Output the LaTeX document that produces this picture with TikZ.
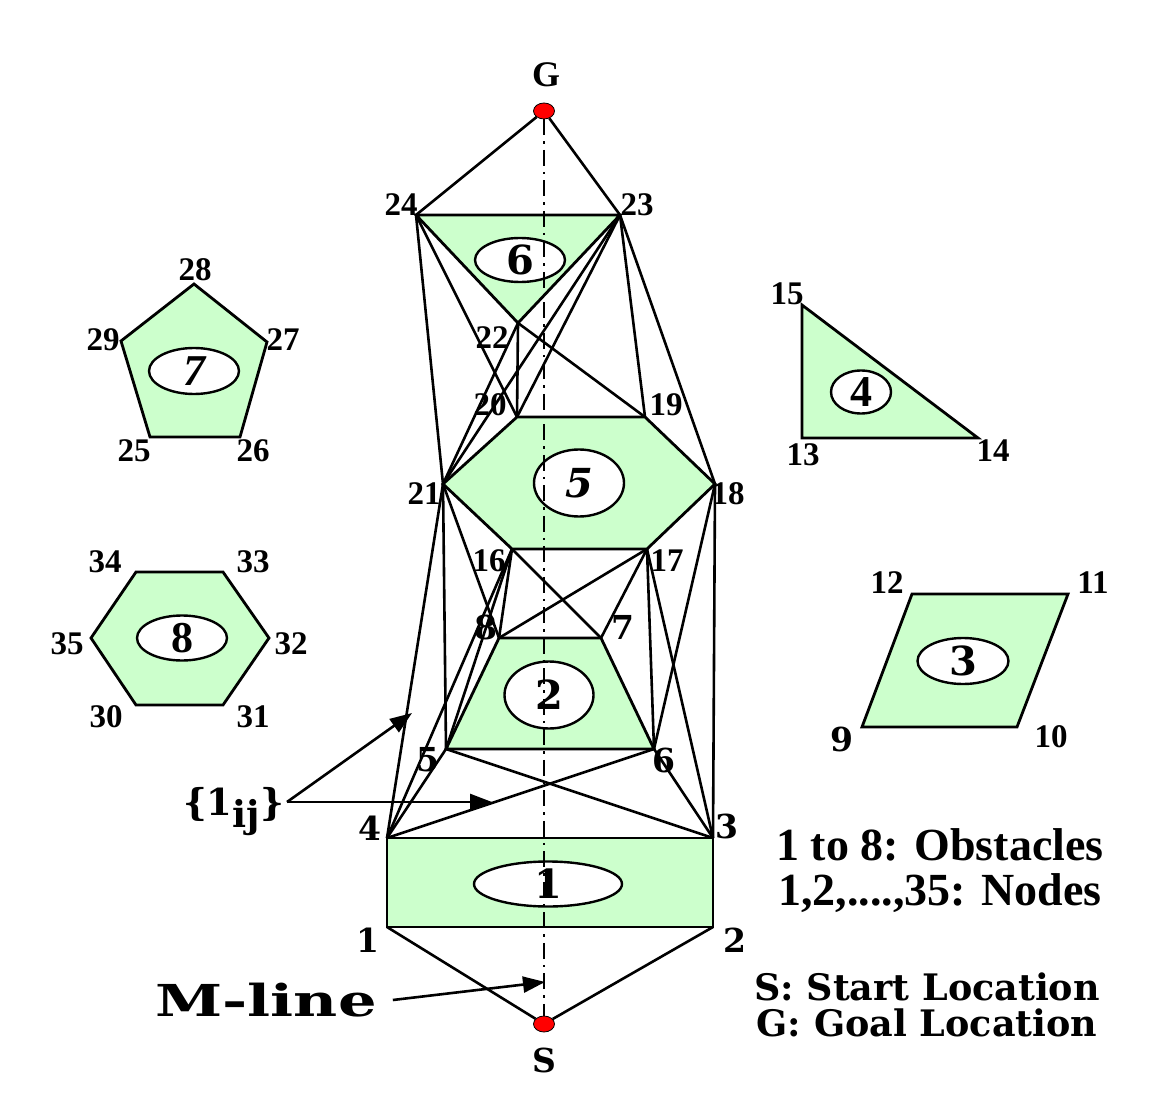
\documentclass[tikz,border=0pt]{standalone}
\usepackage{fontspec}
\setmainfont{Liberation Serif}
\newfontfamily\bookfont{DejaVu Serif}
\usepackage{graphicx}
\usepackage{tikz}
\usetikzlibrary{positioning,arrows.meta,shapes.geometric,calc}
\definecolor{obstgreen}{HTML}{CCFFCC}

\begin{document}
\begin{tikzpicture}[x=1pt, y=-1pt,
    obst/.style={fill=obstgreen, draw=black, line width=2.8pt, line join=miter},
    oval/.style={ellipse, draw=black, fill=white, line width=2.4pt, inner sep=0pt},
    vis/.style={draw=black, line width=2.6pt},
    tlab/.style={font=\fontsize{33}{33}\selectfont\bfseries, inner sep=0pt},
    blab/.style={font=\bookfont\fontsize{33}{33}\selectfont\bfseries, inner sep=0pt},
    onum/.style={font=\bookfont\fontsize{40}{40}\selectfont\bfseries},
    tnum/.style={font=\fontsize{44}{44}\selectfont\bfseries},
    endpt/.style={ellipse, draw=black, fill=red, line width=0.8pt,
                  minimum width=21pt, minimum height=16pt, inner sep=0pt},
    arr/.style={draw=black, line width=2.6pt, -{Triangle[length=22pt,width=16pt]}},
    mline/.style={draw=black, line width=2.4pt,
                  dash pattern=on 16pt off 6pt on 2.5pt off 6pt}
]
\useasboundingbox (0,0) rectangle (1151,1115);

% Vertices of the obstacles
\foreach \n/\x/\y in {1/387/927, 2/713/927, 3/713/838, 4/387/838,
    5/446/749, 6/654/749, 7/601/638, 8/499/638,
    9/862/727, 10/1017/727, 11/1068/594, 12/912/594,
    13/802/438, 14/978/438, 15/802/305,
    16/512/549, 17/647/549, 18/715/484, 19/645/417, 20/517/417, 21/443/484,
    22/518/323, 23/620/215, 24/416/215,
    25/150/437, 26/240/437, 27/267/342, 28/194/284, 29/121/341,
    30/136/705, 31/223/705, 32/269/638, 33/223/572, 34/136/572, 35/91/638}
    \coordinate (n\n) at (\x,\y);

% Obstacles
\path[obst] (n4) -- (n3) -- (n2) -- (n1) -- cycle;
\path[obst] (n8) -- (n7) -- (n6) -- (n5) -- cycle;
\path[obst] (n12) -- (n11) -- (n10) -- (n9) -- cycle;
\path[obst] (n15) -- (n14) -- (n13) -- cycle;
\path[obst] (n20) -- (n19) -- (n18) -- (n17) -- (n16) -- (n21) -- cycle;
\path[obst] (n24) -- (n23) -- (n22) -- cycle;
\path[obst] (n28) -- (n27) -- (n26) -- (n25) -- (n29) -- cycle;
\path[obst] (n34) -- (n33) -- (n32) -- (n31) -- (n30) -- (n35) -- cycle;

% Start and goal
\node[endpt] (G) at (544,111) {};
\node[endpt] (S) at (544,1024) {};

% Visibility lines
\foreach \a/\b in {24/21, 24/20, 22/19, 22/20, 22/21, 23/21, 23/20, 23/19, 23/18,
    21/4, 21/5, 21/8, 18/3, 18/6, 16/7, 16/8, 16/5, 16/4,
    17/8, 17/7, 17/6, 17/3, 5/3, 4/6, 6/3, 4/5}
    \draw[vis] (n\a) -- (n\b);
\draw[vis] (G) -- (n24);
\draw[vis] (G) -- (n23);
\draw[vis] (S) -- (n1);
\draw[vis] (S) -- (n2);

% Obstacle numbers
\node[oval, minimum width=148pt, minimum height=45pt, onum] (o1) at (548,884) {1};
\node[oval, minimum width=89pt, minimum height=67pt, onum] (o2) at (549,695) {2};
\node[oval, minimum width=91pt, minimum height=46pt, onum] (o3) at (963,661) {3};
\node[oval, minimum width=60pt, minimum height=43pt, tnum] (o4) at (861,392) {4};
\node[oval, minimum width=90pt, minimum height=67pt, onum] (o5) at (579,483) {\itshape 5};
\node[oval, minimum width=90pt, minimum height=44pt, onum] (o6) at (520,260) {6};
\node[oval, minimum width=90pt, minimum height=46pt, tnum] (o7) at (194,371) {\itshape 7};
\node[oval, minimum width=90pt, minimum height=45pt, tnum] (o8) at (182,638) {8};

% M-line
\draw[mline] (G) -- (S);

% Node labels
\foreach \n/\x/\y in {1/368/940, 2/735/940, 3/727/826, 4/370/828,
    5/428/760, 6/664/760, 7/623/627, 8/486/627, 9/842/739}
    \node[blab] (l\n) at (\x,\y) {\n};
\foreach \n/\x/\y in {10/1051/737, 11/1093/583, 12/887/583,
    13/803/455, 14/993/451, 15/787/294,
    16/489/561, 17/667/561, 18/728/494, 19/666/405, 20/490/405,
    21/424/494, 22/492/338, 23/637/205, 24/401/205,
    25/134/451, 26/253/451, 27/283/340, 28/195/270, 29/103/340,
    30/106/717, 31/253/717, 32/291/644, 33/253/562, 34/105/562, 35/67/644}
    \node[tlab] (l\n) at (\x,\y) {\n};
\node[tlab, font=\fontsize{36}{36}\selectfont\bfseries] (lG) at (546,75) {G};
\node[blab] (lS) at (544,1060) {S};

% Edge set pointer
\node[blab, font=\bookfont\fontsize{37}{37}\selectfont\bfseries, anchor=east]
    (lij) at (284,812) {\{1\raisebox{-12pt}{ij}\}};
\coordinate (ijapex) at (287,802);
\coordinate (ijtipA) at (412,713);
\coordinate (ijtipB) at (492,802);
\draw[arr] (ijapex) -- (ijtipA);
\draw[arr] (ijapex) -- (ijtipB);

% M-line pointer
\node[font=\bookfont\fontsize{44}{44}\selectfont\bfseries, inner sep=0pt]
    (mlbl) at (266,1000) {\scalebox{1.38}[1]{M-line}};
\coordinate (mtip) at (545,982);
\draw[arr] ([xshift=16pt]mlbl.east) -- (mtip);

% Legend
\node[font=\fontsize{46}{46}\selectfont\bfseries] (leg1) at (940,845) {1 to 8: Obstacles};
\node[font=\fontsize{46}{46}\selectfont\bfseries] (leg2) at (940,893) {1,2,....,35: Nodes};
\node[font=\bookfont\fontsize{36.5}{36.5}\selectfont\bfseries] (leg3) at (927,987) {S: Start Location};
\node[font=\bookfont\fontsize{36.5}{36.5}\selectfont\bfseries] (leg4) at (927,1023) {G: Goal Location};

\end{tikzpicture}
\end{document}
